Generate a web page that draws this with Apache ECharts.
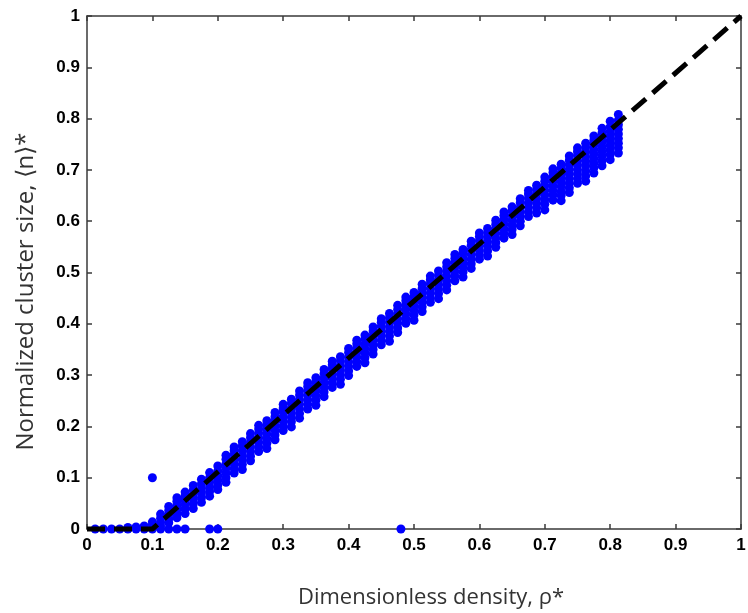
<!DOCTYPE html>
<html>
<head>
<meta charset="utf-8">
<script src="https://cdn.jsdelivr.net/npm/echarts@6/dist/echarts.min.js"></script>
<style>
  html, body { margin: 0; padding: 0; background: #fff; }
  #chart { width: 748px; height: 613px; }
</style>
</head>
<body>
<div id="chart"></div>
<script>
// Simulated densities (one column of runs per density value)
const rho = [
  0.0125, 0.025, 0.0375, 0.05, 0.0625, 0.075, 0.0875, 0.1,
  0.1125, 0.125, 0.1375, 0.15, 0.1625, 0.175, 0.1875, 0.2,
  0.2125, 0.225, 0.2375, 0.25, 0.2625, 0.275, 0.2875, 0.3,
  0.3125, 0.325, 0.3375, 0.35, 0.3625, 0.375, 0.3875, 0.4,
  0.4125, 0.425, 0.4375, 0.45, 0.4625, 0.475, 0.4875, 0.5,
  0.5125, 0.525, 0.5375, 0.55, 0.5625, 0.575, 0.5875, 0.6,
  0.6125, 0.625, 0.6375, 0.65, 0.6625, 0.675, 0.6875, 0.7,
  0.7125, 0.725, 0.7375, 0.75, 0.7625, 0.775, 0.7875, 0.8,
  0.8125
];

// Normalized cluster size of each run, grouped by density
const clusterSize = [
  [0], [0], [0], [0], [0, 0.003], [0, 0.004], [0, 0.006], [0, 0.008, 0.014],
  [0, 0.006, 0.013, 0.021, 0.029],
  [0, 0.012, 0.02, 0.028, 0.036, 0.044],
  [0, 0.022, 0.03, 0.038, 0.046, 0.054, 0.061],
  [0, 0.03, 0.039, 0.048, 0.056, 0.064, 0.072],
  [0.04, 0.049, 0.058, 0.067, 0.076, 0.085],
  [0.052, 0.061, 0.07, 0.079, 0.088, 0.097],
  [0, 0.064, 0.073, 0.082, 0.091, 0.1, 0.11],
  [0, 0.077, 0.086, 0.095, 0.104, 0.113, 0.123],
  [0.091, 0.1, 0.109, 0.118, 0.127, 0.136, 0.144],
  [0.109, 0.118, 0.127, 0.136, 0.145, 0.153, 0.16],
  [0.116, 0.126, 0.135, 0.144, 0.153, 0.162, 0.17],
  [0.133, 0.142, 0.151, 0.16, 0.169, 0.178, 0.186],
  [0.151, 0.16, 0.169, 0.178, 0.187, 0.195, 0.202],
  [0.157, 0.167, 0.176, 0.185, 0.194, 0.203, 0.211],
  [0.174, 0.183, 0.192, 0.201, 0.21, 0.219, 0.227],
  [0.192, 0.201, 0.21, 0.219, 0.228, 0.236, 0.243],
  [0.199, 0.209, 0.218, 0.227, 0.236, 0.245, 0.253],
  [0.216, 0.225, 0.234, 0.243, 0.252, 0.261, 0.269],
  [0.234, 0.243, 0.252, 0.261, 0.27, 0.278, 0.285],
  [0.241, 0.251, 0.26, 0.269, 0.278, 0.287, 0.295],
  [0.258, 0.267, 0.276, 0.285, 0.294, 0.303, 0.311],
  [0.276, 0.285, 0.294, 0.303, 0.312, 0.32, 0.327],
  [0.282, 0.292, 0.301, 0.31, 0.319, 0.328, 0.336],
  [0.299, 0.308, 0.317, 0.326, 0.335, 0.344, 0.352],
  [0.317, 0.326, 0.335, 0.344, 0.353, 0.361, 0.368],
  [0.324, 0.334, 0.343, 0.352, 0.361, 0.37, 0.378],
  [0.341, 0.35, 0.359, 0.368, 0.377, 0.386, 0.394],
  [0.359, 0.368, 0.377, 0.386, 0.395, 0.403, 0.41],
  [0.366, 0.376, 0.385, 0.394, 0.403, 0.412, 0.42],
  [0.383, 0.392, 0.401, 0.41, 0.419, 0.428, 0.436],
  [0.401, 0.41, 0.419, 0.428, 0.437, 0.445, 0.452],
  [0.407, 0.417, 0.426, 0.435, 0.444, 0.453, 0.461],
  [0.424, 0.433, 0.442, 0.451, 0.46, 0.469, 0.477],
  [0.442, 0.451, 0.46, 0.469, 0.478, 0.486, 0.493],
  [0.449, 0.459, 0.468, 0.477, 0.486, 0.495, 0.503],
  [0.466, 0.475, 0.484, 0.493, 0.502, 0.511, 0.519],
  [0.484, 0.493, 0.502, 0.511, 0.52, 0.528, 0.535],
  [0.491, 0.501, 0.51, 0.519, 0.528, 0.537, 0.545],
  [0.508, 0.517, 0.526, 0.535, 0.544, 0.553, 0.561],
  [0.526, 0.535, 0.544, 0.553, 0.562, 0.57, 0.577],
  [0.532, 0.542, 0.551, 0.56, 0.569, 0.578, 0.586],
  [0.549, 0.558, 0.567, 0.576, 0.585, 0.594, 0.602],
  [0.567, 0.576, 0.585, 0.594, 0.603, 0.611, 0.618],
  [0.574, 0.584, 0.593, 0.602, 0.611, 0.62, 0.628],
  [0.591, 0.6, 0.609, 0.618, 0.627, 0.636, 0.644],
  [0.609, 0.618, 0.627, 0.636, 0.645, 0.653, 0.66],
  [0.616, 0.626, 0.635, 0.644, 0.653, 0.662, 0.67],
  [0.622, 0.633, 0.642, 0.651, 0.66, 0.669, 0.678, 0.686],
  [0.641, 0.651, 0.66, 0.669, 0.678, 0.687, 0.695, 0.702],
  [0.64, 0.65, 0.658, 0.668, 0.677, 0.686, 0.694, 0.703, 0.711],
  [0.656, 0.665, 0.674, 0.683, 0.692, 0.701, 0.71, 0.719, 0.727],
  [0.674, 0.683, 0.692, 0.701, 0.71, 0.719, 0.728, 0.736, 0.743],
  [0.678, 0.688, 0.698, 0.708, 0.717, 0.726, 0.735, 0.744, 0.752],
  [0.694, 0.704, 0.713, 0.722, 0.731, 0.74, 0.749, 0.758, 0.766],
  [0.708, 0.718, 0.727, 0.736, 0.745, 0.754, 0.763, 0.772, 0.781],
  [0.72, 0.73, 0.739, 0.748, 0.757, 0.766, 0.775, 0.784, 0.795],
  [0.733, 0.743, 0.752, 0.761, 0.77, 0.779, 0.788, 0.797, 0.808]
];

// Isolated runs away from the main band
const strayRho = [0.1, 0.48];
const strayN = [0.1, 0];

// Reference line <n>* = (rho* - 0.1) / 0.9 above the threshold
const fitRho = [0, 0.1, 1];
const fitN = [0, 0, 1];

const points = [];
rho.forEach((r, i) => clusterSize[i].forEach(n => points.push([r, n])));
strayRho.forEach((r, i) => points.push([r, strayN[i]]));
const fitLine = fitRho.map((r, i) => [r, fitN[i]]);

const frameColor = '#3a3a3a';
const axisLine = () => ({ show: true, onZero: false, lineStyle: { color: frameColor, width: 1.5 } });
const axisTick = () => ({ show: true, inside: true, length: 5, lineStyle: { color: frameColor, width: 1.5 } });
const tickLabel = (margin) => ({
  show: true, margin: margin,
  fontFamily: 'Liberation Sans', fontWeight: 'bold', fontSize: 17, color: '#000',
  formatter: v => String(+v.toFixed(1))
});

const chart = echarts.init(document.getElementById('chart'), null, { renderer: 'canvas' });
chart.setOption({
  animation: false,
  backgroundColor: '#fff',
  grid: { left: 87, right: 7, top: 16, bottom: 84, containLabel: false, outerBoundsMode: 'none' },
  xAxis: [
    {
      type: 'value', min: 0, max: 1, interval: 0.1, position: 'bottom',
      name: 'Dimensionless density, ρ*', nameLocation: 'middle', nameGap: 58,
      nameTextStyle: { fontFamily: 'Open Sans', fontSize: 22, color: '#333', padding: [0, 0, 0, 34] },
      axisLine: axisLine(), axisTick: axisTick(), axisLabel: tickLabel(8),
      splitLine: { show: false }
    },
    {
      type: 'value', min: 0, max: 1, interval: 0.1, position: 'top',
      axisLine: axisLine(), axisTick: axisTick(), axisLabel: { show: false },
      splitLine: { show: false }
    }
  ],
  yAxis: [
    {
      type: 'value', min: 0, max: 1, interval: 0.1, position: 'left',
      name: 'Normalized cluster size, ⟨n⟩*', nameLocation: 'middle', nameGap: 49,
      nameTextStyle: { fontFamily: 'Open Sans', fontSize: 24, color: '#333', padding: [0, 38, 0, 0] },
      axisLine: axisLine(), axisTick: axisTick(), axisLabel: tickLabel(7),
      splitLine: { show: false }
    },
    {
      type: 'value', min: 0, max: 1, interval: 0.1, position: 'right',
      axisLine: axisLine(), axisTick: axisTick(), axisLabel: { show: false },
      splitLine: { show: false }
    }
  ],
  series: [
    {
      type: 'scatter', data: points, symbol: 'circle', symbolSize: 9,
      itemStyle: { color: '#0000ff', opacity: 1 },
      clip: false, z: 2
    },
    {
      type: 'line', data: fitLine, showSymbol: false, symbol: 'none',
      lineStyle: { color: '#000', width: 5, type: [18, 9], cap: 'butt' },
      clip: false, z: 5
    }
  ]
});
</script>
</body>
</html>
